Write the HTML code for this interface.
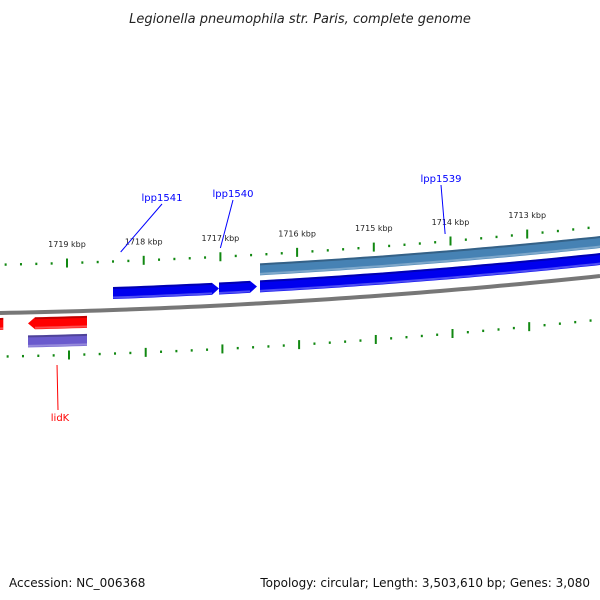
<!DOCTYPE html>
<html><head><meta charset="utf-8">
<style>
html,body{margin:0;padding:0;background:#fff;}
svg{display:block;font-family:"DejaVu Sans","Liberation Sans",sans-serif;}
</style></head>
<body>
<svg id="map" width="600" height="600" viewBox="0 0 600 600">
  <text x="300" y="23" text-anchor="middle" font-size="13" font-style="italic" fill="#222">Legionella pneumophila str. Paris, complete genome</text>
  <g id="tracks"></g>
  <g id="labels"></g>
  <text x="9" y="587" font-size="12" fill="#111">Accession: NC_006368</text>
  <text x="590" y="587" font-size="12" fill="#111" text-anchor="end">Topology: circular; Length: 3,503,610 bp; Genes: 3,080</text>
</svg>
<script>
// data
const tickKbp = [1720, 1719, 1718, 1717, 1716, 1715, 1714, 1713, 1712];
const tickLabels = ["1719 kbp","1718 kbp","1717 kbp","1716 kbp","1715 kbp","1714 kbp","1713 kbp"];
const labelKbp = [1719, 1718, 1717, 1716, 1715, 1714, 1713];
const geneNames = ["lpp1541", "lpp1540", "lpp1539", "cds-band", "lidK", "red-partial", "lidK-cds"];
const geneStart = [1718400, 1717018, 1716484, 1716484, 1719508, 1719900, 1719508];
const geneEnd = [1717018, 1716523, 1708000, 1708000, 1718739, 1719830, 1718739];
const geneLane = [-17, -17, -17, -34, 11, 11, 29];
const geneColor = ["#0000ee", "#0000ee", "#0000ee", "#4682b4", "#ff0000", "#ff0000", "#6a5acd"];
const geneArrow = [1, 1, 0, 0, -1, 0, 0];
const calloutNames = ["lpp1541", "lpp1540", "lpp1539", "lidK"];
const calloutBp = [1718300, 1717000, 1714070, 1719130];

const NS = "http://www.w3.org/2000/svg";
const tracks = document.getElementById('tracks');
const labels = document.getElementById('labels');
const A = -7.2e-5;
function xOf(bp){ return 67 + (1719000 - bp) * 0.0767; }
function bb(x){ return 313 - 0.0184 * x + A * x * x; }
function yUp(x){ return 264.7 - 0.0202 * x + A * x * x; }
function yLo(x){ return 356.6 - 0.0185 * x + A * x * x; }
function mk(tag, attrs){ const e = document.createElementNS(NS, tag); for (const k in attrs) e.setAttribute(k, attrs[k]); return e; }

// backbone
let d = "";
for (let x = 0; x <= 600; x += 10) d += (x ? "L" : "M") + x + "," + bb(x).toFixed(2);
const back = mk('path', {d: d, stroke: "#777", "stroke-width": 4, fill: "none"});


tracks.appendChild(back);

// ticks
for (let k = tickKbp[tickKbp.length-1]*1000; k <= tickKbp[0]*1000; k += 200) {
  const major = k % 1000 === 0;
  [[yUp, 0], [yLo, 2]].forEach(([fn, dx]) => {
    const x = xOf(k) + dx;
    if (x < -2 || x > 602) return;
    const y = fn(x);
    const t = mk('line', {x1: x, x2: x, y1: y - (major ? 4.5 : 1.2), y2: y + (major ? 4.5 : 1.2), stroke: "#118811", "stroke-width": 2});
    
    
    tracks.appendChild(t);
  });
}
labelKbp.forEach((k, i) => {
  const x = xOf(k * 1000);
  const t = mk('text', {x: x, y: yUp(x) - 16, "font-size": 8, "text-anchor": "middle", fill: "#222"});
  t.textContent = tickLabels[i];
  
  
  tracks.appendChild(t);
});

// genes
function shade(c){ return c; }
geneNames.forEach((n, i) => {
  let x1 = xOf(geneStart[i]), x2 = xOf(geneEnd[i]);
  if (x1 > x2) { const t = x1; x1 = x2; x2 = t; }
  x2 = Math.min(x2, 610);
  const h = 12, off = geneLane[i], ah = 7;
  const bx1 = geneArrow[i] === -1 ? x1 + ah : x1;
  const bx2 = geneArrow[i] === 1 ? x2 - ah : x2;
  let top = [], bot = [];
  const steps = Math.max(2, Math.ceil((bx2 - bx1) / 8));
  for (let s = 0; s <= steps; s++) {
    const x = bx1 + (bx2 - bx1) * s / steps;
    const c = bb(x) + off;
    top.push([x, c - h/2]); bot.push([x, c + h/2]);
  }
  let pts = top.slice();
  if (geneArrow[i] === 1) pts.push([x2, bb(x2) + off]);
  pts = pts.concat(bot.reverse());
  if (geneArrow[i] === -1) pts.push([x1, bb(x1) + off]);
  const poly = mk('polygon', {points: pts.map(p => p[0].toFixed(1) + "," + p[1].toFixed(1)).join(" "), fill: geneColor[i]});
  
  
  tracks.appendChild(poly);
  // darker top edge and lighter bottom edge
  let e1 = "", e2 = "";
  top.forEach((p, j) => { e1 += (j ? "L" : "M") + p[0].toFixed(1) + "," + (p[1] + 1).toFixed(1); });
  bot.slice().reverse().forEach((p, j) => { e2 += (j ? "L" : "M") + p[0].toFixed(1) + "," + (p[1] - 1.5).toFixed(1); });
  const l1 = mk('path', {d: e1, stroke: "#000", "stroke-opacity": 0.25, "stroke-width": 2, fill: "none"});
  
  
  tracks.appendChild(l1);
  const l2 = mk('path', {d: e2, stroke: "#fff", "stroke-opacity": 0.3, "stroke-width": 2, fill: "none"});
  
  
  tracks.appendChild(l2);
});

// callouts
const calloutLabelPos = [[162, 201, 252], [233, 197, 248], [441, 182, 234], [60, 421, 365]];
calloutNames.forEach((n, i) => {
  const x = xOf(calloutBp[i]);
  const lp = calloutLabelPos[i];
  const isRev = n === "lidK";
  const col = isRev ? "#ff0000" : "#0000ff";
  const ln = mk('line', {x1: isRev ? lp[0] - 2 : lp[0], y1: isRev ? lp[1] - 11 : lp[1] + 3, x2: x, y2: lp[2], stroke: col, "stroke-width": 1});
  
  
  labels.appendChild(ln);
  const t = mk('text', {x: lp[0], y: lp[1], "font-size": 10, "text-anchor": "middle", fill: col});
  t.textContent = n;
  
  
  labels.appendChild(t);
});
</script>
</body></html>
